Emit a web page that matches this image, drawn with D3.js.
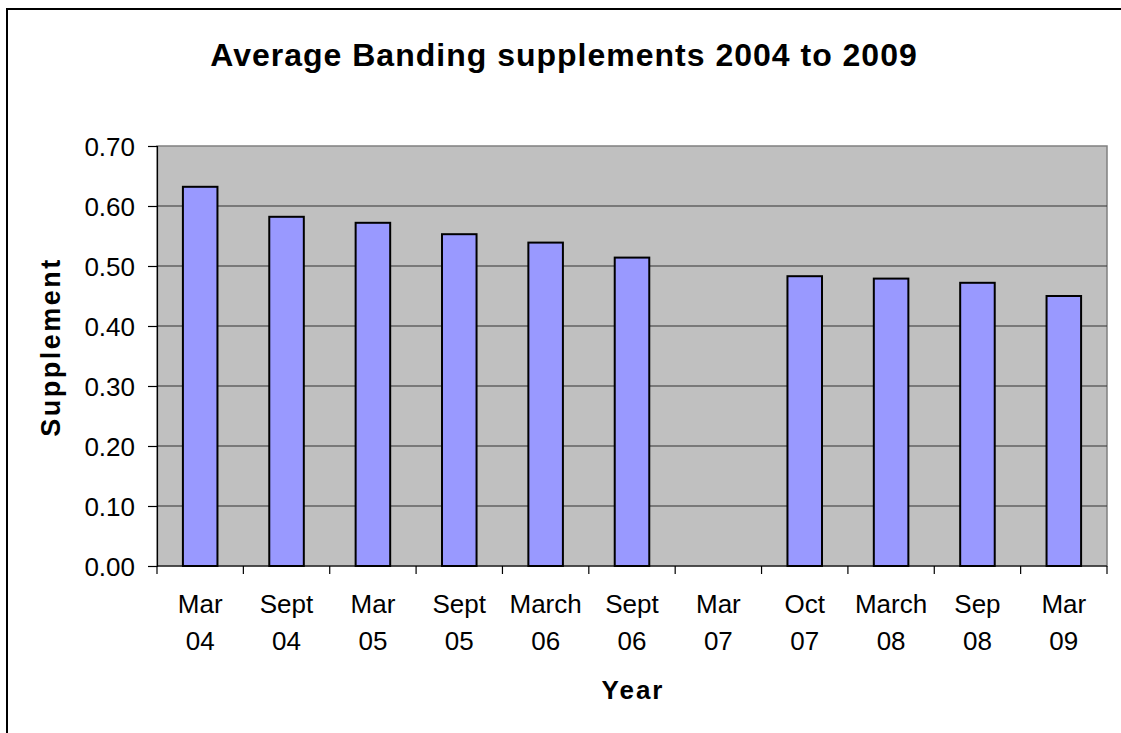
<!DOCTYPE html>
<html><head><meta charset="utf-8">
<script src="https://cdn.jsdelivr.net/npm/d3@7"></script>
<style>body{margin:0;background:#fff;overflow:hidden}text{font-family:"Liberation Sans",Arial,sans-serif}</style>
</head><body>
<svg id="c" width="1121" height="733" style="display:block"></svg>
<script>
const categories = [["Mar","04"],["Sept","04"],["Mar","05"],["Sept","05"],["March","06"],["Sept","06"],["Mar","07"],["Oct","07"],["March","08"],["Sep","08"],["Mar","09"]];
const values = [0.632, 0.582, 0.572, 0.553, 0.539, 0.514, null, 0.483, 0.479, 0.472, 0.450];
const yTicks = [0,0.1,0.2,0.3,0.4,0.5,0.6,0.7];
const title = "Average Banding supplements 2004 to 2009";

const svg = d3.select("#c");
const L=157, R=1107, T=146, B=566;
svg.append("rect").attr("x",7).attr("y",9).attr("width",1160).attr("height",760)
  .attr("fill","#fff").attr("stroke","#000").attr("stroke-width",2);

const x = d3.scaleBand().domain(d3.range(categories.length)).range([L,R]).paddingInner(0.6).paddingOuter(0.3);
const xb = d3.scaleBand().domain(d3.range(categories.length)).range([L,R]);
const y = d3.scaleLinear().domain([0,0.7]).range([B,T]);

svg.append("rect").attr("x",L).attr("y",T).attr("width",R-L).attr("height",B-T)
  .attr("fill","#c0c0c0").attr("stroke","#808080").attr("stroke-width",1.5);

svg.append("g").selectAll("line").data(yTicks.slice(1,-1)).join("line")
  .attr("x1",L).attr("x2",R).attr("y1",d=>y(d)).attr("y2",d=>y(d))
  .attr("stroke","#333").attr("stroke-width",1.2);

svg.append("g").selectAll("rect").data(values.map((v,i)=>({v,i})).filter(d=>d.v!=null)).join("rect")
  .attr("x",d=>x(d.i)).attr("width",x.bandwidth())
  .attr("y",d=>y(d.v)).attr("height",d=>y(0)-y(d.v))
  .attr("fill","#9999ff").attr("stroke","#000").attr("stroke-width",2);

// y axis
const ya = svg.append("g").attr("transform",`translate(${L},0)`)
  .call(d3.axisLeft(y).tickValues(yTicks).tickFormat(d3.format(".2f")).tickSize(9).tickPadding(13));
ya.select(".domain").attr("stroke","#000").attr("stroke-width",1.2);
ya.selectAll(".tick line").attr("stroke","#000").attr("stroke-width",1.2);
ya.selectAll(".tick text").attr("font-size",26).attr("fill","#000").attr("dy","0.36em")
  .attr("font-family","Liberation Sans, Arial, sans-serif");

// x axis
const xa = svg.append("g").attr("transform",`translate(0,${B})`);
xa.append("line").attr("x1",L).attr("x2",R).attr("stroke","#000").attr("stroke-width",1.2);
const bounds = d3.range(categories.length+1).map(i=> i<categories.length? xb(i) : R);
xa.selectAll("line.t").data(bounds).join("line").attr("class","t")
  .attr("x1",d=>d).attr("x2",d=>d).attr("y1",0).attr("y2",8).attr("stroke","#000").attr("stroke-width",1.2);
const lab = xa.selectAll("text").data(categories).join("text")
  .attr("text-anchor","middle").attr("font-size",26).attr("fill","#000");
lab.append("tspan").attr("x",(d,i)=>xb(i)+xb.bandwidth()/2).attr("y",47).text(d=>d[0]);
lab.append("tspan").attr("x",(d,i)=>xb(i)+xb.bandwidth()/2).attr("y",84).text(d=>d[1]);

svg.append("text").attr("x",564).attr("y",66).attr("text-anchor","middle")
  .attr("font-size",32).attr("font-weight","bold").attr("letter-spacing","1").text(title);
svg.append("text").attr("x",(L+R)/2+1).attr("y",699).attr("text-anchor","middle")
  .attr("font-size",26).attr("font-weight","bold").attr("letter-spacing","2").text("Year");
svg.append("text").attr("transform",`translate(60,347) rotate(-90)`).attr("text-anchor","middle")
  .attr("font-size",27).attr("font-weight","bold").attr("letter-spacing","2.5").text("Supplement");
</script>
</body></html>
